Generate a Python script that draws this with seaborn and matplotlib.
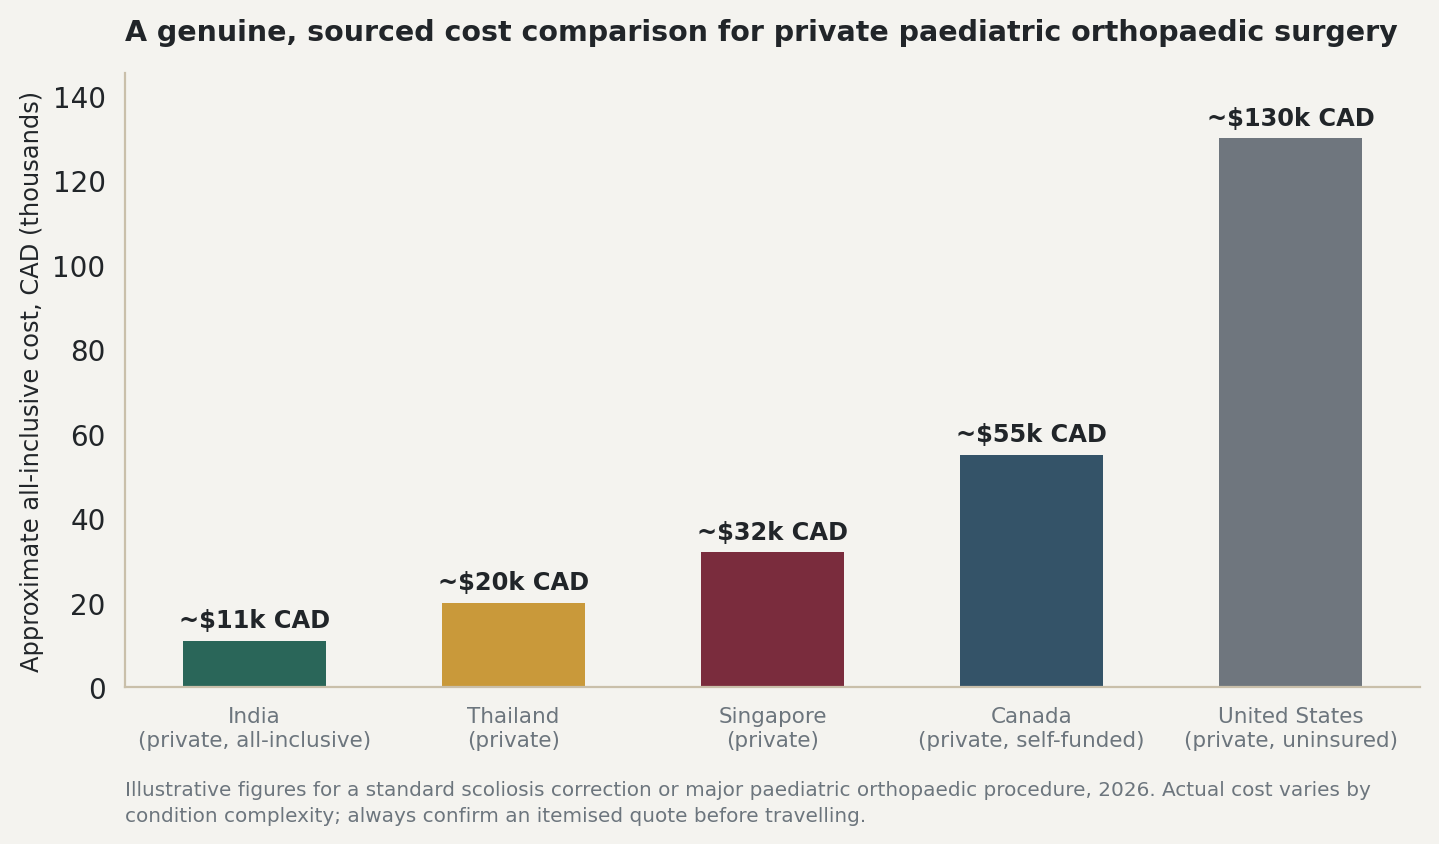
import matplotlib
matplotlib.use("Agg")
import matplotlib.pyplot as plt
import seaborn as sns
import pandas as pd

# data
countries = [
    "India\n(private, all-inclusive)",
    "Thailand\n(private)",
    "Singapore\n(private)",
    "Canada\n(private, self-funded)",
    "United States\n(private, uninsured)",
]
cost_k = [11, 20, 32, 55, 130]
bar_labels = ["~$11k CAD", "~$20k CAD", "~$32k CAD", "~$55k CAD", "~$130k CAD"]
bar_colors = ["#2a6659", "#c9993a", "#7a2c3d", "#345368", "#6f767e"]

bg = "#f4f3ef"
dark = "#212529"
grey = "#6c757d"
spine = "#c9bfaa"

df = pd.DataFrame({"country": countries, "cost": cost_k})

sns.set_style("white")
plt.rcParams["font.family"] = ["DejaVu Sans"]

fig = plt.figure(figsize=(7.195, 4.225), dpi=200, facecolor=bg)
ax = fig.add_axes([0.0869, 0.1858, 0.8999, 0.7266])
ax.set_facecolor(bg)

sns.barplot(data=df, x="country", y="cost", hue="country", palette=bar_colors,
            width=0.55, saturation=1, legend=False, linewidth=0, ax=ax)

# value labels on top of the bars
for cont, lab in zip(ax.containers, bar_labels):
    ax.bar_label(cont, labels=[lab], padding=3, fontsize=8.7, fontweight="bold", color=dark)

ax.set_ylim(0, 145.4)
ax.set_yticks(range(0, 141, 20))
ax.set_xlabel("")
ax.set_ylabel("Approximate all-inclusive cost, CAD (thousands)", fontsize=8.7, color=dark, labelpad=3)
ax.tick_params(axis="y", labelsize=10, colors=dark, length=3.5, width=0.8)
ax.tick_params(axis="x", labelsize=7.75, colors=grey, length=3.5, width=0.8)

sns.despine(ax=ax)
for s in ["left", "bottom"]:
    ax.spines[s].set_color(spine)
    ax.spines[s].set_linewidth(0.8)

ax.set_title("A genuine, sourced cost comparison for private paediatric orthopaedic surgery",
             loc="left", fontsize=10.25, fontweight="bold", color=dark, pad=12)

fig.text(0.0869, 0.023,
         "Illustrative figures for a standard scoliosis correction or major paediatric orthopaedic procedure, 2026. "
         "Actual cost varies by\ncondition complexity; always confirm an itemised quote before travelling.",
         fontsize=7.2, color=grey, ha="left", va="bottom", linespacing=1.45)

fig.savefig("out.png", dpi=200, facecolor=bg)
plt.close()
